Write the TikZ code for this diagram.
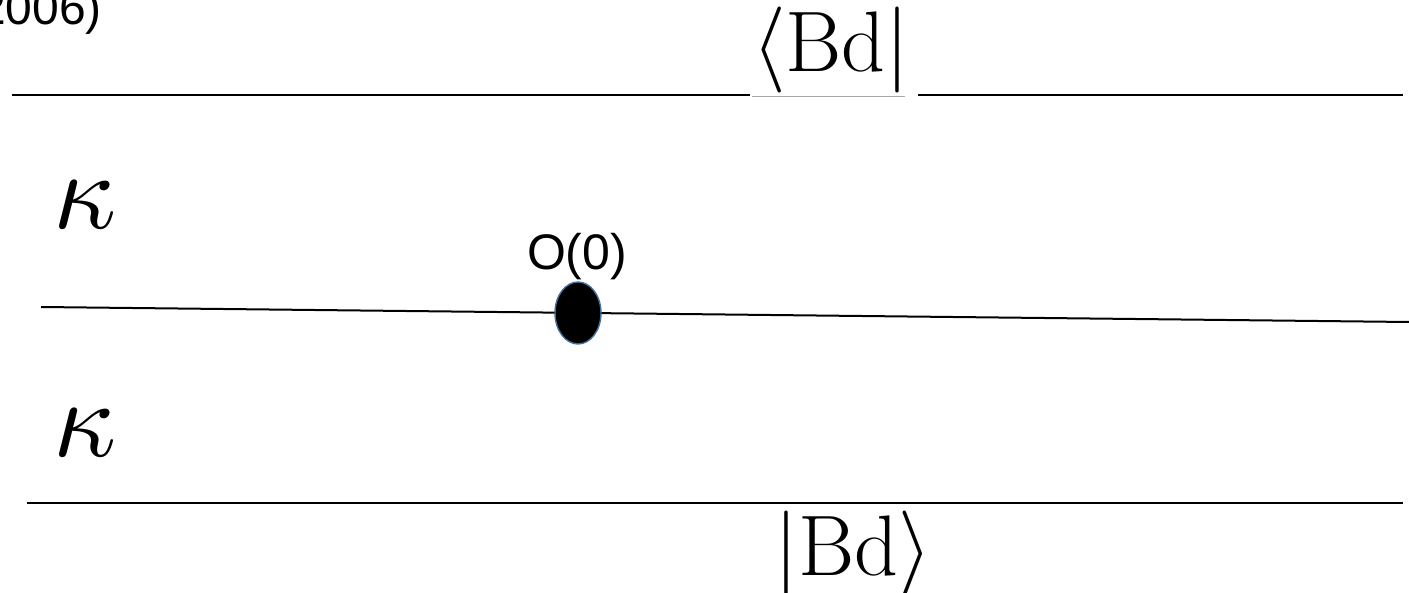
\documentclass[tikz,border=0pt]{standalone}
\usepackage{amsmath}
\usepackage{fontspec}
\usepackage{unicode-math}
\usepackage{tikz}
\usetikzlibrary{shapes.geometric}
\setmathfont{Latin Modern Math}
\newfontfamily\arialfont{Liberation Sans}
\definecolor{dotEdge}{RGB}{65, 113, 156}
\definecolor{pasteGray}{RGB}{170, 170, 170}

\begin{document}
\begin{tikzpicture}[x=0.5pt, y=-0.5pt, line width=1pt]
  \useasboundingbox (0,0) rectangle (1409,593);
  \node[anchor=base east, inner sep=0pt, font=\arialfont\fontsize{24}{28}\selectfont] (cite) at (103,25) {2006)};
  % bra and ket
  \node[anchor=base, inner sep=0pt, font=\fontsize{43}{48}\selectfont] (bra) at (831,72) {$\langle\mathrm{Bd}|$};
  \node[anchor=base, inner sep=0pt, font=\fontsize{43}{48}\selectfont] (ket) at (853,575) {$|\mathrm{Bd}\rangle$};
  \node[anchor=base, inner sep=0pt, font=\fontsize{55}{60}\selectfont] (kapA) at (85,229) {$\kappa$};
  \node[anchor=base, inner sep=0pt, font=\fontsize{55}{60}\selectfont] (kapB) at (85,456) {$\kappa$};
  \coordinate (topL) at (12,95);
  \coordinate (topR) at (1403,95);
  \coordinate (midL) at (41,307);
  \coordinate (midR) at (1409,322);
  \coordinate (botL) at (27,503);
  \coordinate (botR) at (1403,503);
  \draw[pasteGray, line width=0.4pt] (752,96.5) -- (905,96.5);
  \draw (topL) -- (750,95);
  \draw (918,95) -- (topR);
  \draw (midL) -- (midR);
  \draw (botL) -- (botR);
  % origin
  \node[ellipse, draw=dotEdge, fill=black, line width=0.7pt, minimum width=23pt, minimum height=31pt, inner sep=0pt] (orig) at (578,313) {};
  \node[anchor=base, inner sep=0pt, font=\arialfont\fontsize{25}{29}\selectfont] (origLbl) at (577,270) {O(0)};
\end{tikzpicture}
\end{document}
